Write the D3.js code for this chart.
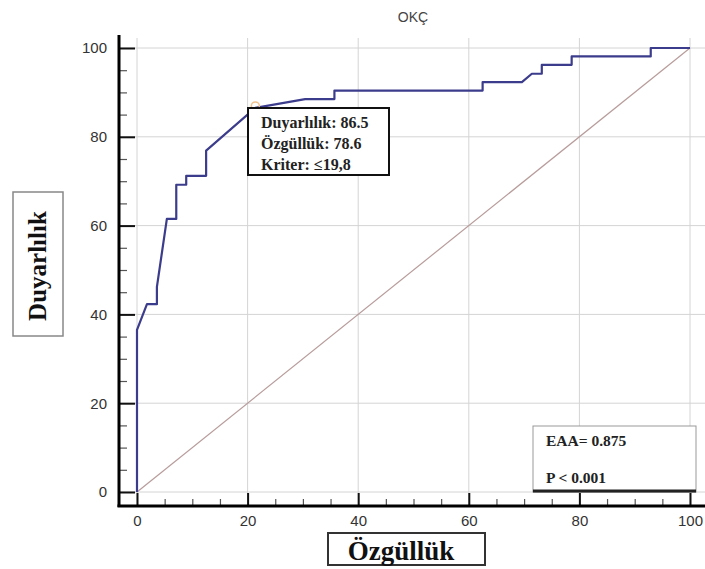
<!DOCTYPE html>
<html>
<head>
<meta charset="utf-8">
<script src="https://cdn.jsdelivr.net/npm/d3@7"></script>
<style>
  body { margin: 0; background: #fff; }
  .tick text { font-family: Arial, "Liberation Sans", sans-serif; fill: #333; }
  .serif { font-family: "Liberation Serif", "Times New Roman", serif; font-weight: bold; }
</style>
</head>
<body>
<div id="container"></div>
<script>
const width = 705, height = 569;

// ROC curve: 100 - specificity (x), sensitivity (y)
const fpr  = [0, 0, 1.8, 3.6, 3.6, 5.4, 7.1, 7.1, 8.9, 8.9, 12.5, 12.5, 21.4, 30.4, 35.7, 35.7, 62.5, 62.5, 69.6, 71.4, 73.2, 73.2, 78.6, 78.6, 92.9, 92.9, 100];
const sens = [0, 36.5, 42.3, 42.3, 46.2, 61.5, 61.5, 69.2, 69.2, 71.2, 71.2, 76.9, 86.5, 88.5, 88.5, 90.4, 90.4, 92.3, 92.3, 94.2, 94.2, 96.2, 96.2, 98.1, 98.1, 100, 100];
const majorTicks = [0, 20, 40, 60, 80, 100];
const minorTicks = [5, 10, 15, 25, 30, 35, 45, 50, 55, 65, 70, 75, 85, 90, 95];
const criterion = {x: 21.4, y: 86.5};
const infoLines = ['Duyarlılık: 86.5', 'Özgüllük: 78.6', 'Kriter: ≤19,8'];
const statLines = ['EAA= 0.875', 'P < 0.001'];

const svg = d3.select('#container').append('svg')
    .attr('width', width).attr('height', height);

const x = d3.scaleLinear([0, 100], [137, 690]);
const y = d3.scaleLinear([0, 100], [492, 48]);

const axisX = 119, axisY = 506;

// grid
svg.append('g').selectAll('line.v')
    .data(majorTicks).join('line')
    .attr('x1', d => x(d)).attr('x2', d => x(d))
    .attr('y1', 38).attr('y2', axisY)
    .attr('stroke', '#d4d4d4').attr('stroke-width', 1);
svg.append('g').selectAll('line.h')
    .data(majorTicks).join('line')
    .attr('x1', axisX).attr('x2', 705)
    .attr('y1', d => y(d)).attr('y2', d => y(d))
    .attr('stroke', '#d4d4d4').attr('stroke-width', 1);

// axes
const yAxis = svg.append('g')
    .attr('transform', `translate(${axisX},0)`)
    .call(d3.axisLeft(y).tickValues(majorTicks).tickSize(-16).tickPadding(12));
yAxis.select('.domain').remove();
yAxis.selectAll('.tick line').attr('stroke', '#111').attr('stroke-width', 2);
yAxis.selectAll('.tick text').style('font-size', '15px');

const yMinor = svg.append('g')
    .attr('transform', `translate(${axisX},0)`)
    .call(d3.axisLeft(y).tickValues(minorTicks).tickSize(-8).tickFormat(''));
yMinor.select('.domain').remove();
yMinor.selectAll('.tick line').attr('stroke', '#555').attr('stroke-width', 1.2);

const xAxis = svg.append('g')
    .attr('transform', `translate(0,${axisY})`)
    .call(d3.axisBottom(x).tickValues(majorTicks).tickSize(-13).tickPadding(9));
xAxis.select('.domain').remove();
xAxis.selectAll('.tick line').attr('stroke', '#111').attr('stroke-width', 2);
xAxis.selectAll('.tick text').style('font-size', '15px');

const xMinor = svg.append('g')
    .attr('transform', `translate(0,${axisY})`)
    .call(d3.axisBottom(x).tickValues(minorTicks).tickSize(-7).tickFormat(''));
xMinor.select('.domain').remove();
xMinor.selectAll('.tick line').attr('stroke', '#555').attr('stroke-width', 1.2);

svg.append('line')
    .attr('x1', axisX).attr('x2', axisX).attr('y1', 35).attr('y2', axisY + 1)
    .attr('stroke', '#000').attr('stroke-width', 3);
svg.append('line')
    .attr('x1', axisX - 1.5).attr('x2', 705).attr('y1', axisY).attr('y2', axisY)
    .attr('stroke', '#000').attr('stroke-width', 3);

// reference diagonal
svg.append('line')
    .attr('x1', x(0)).attr('y1', y(0)).attr('x2', x(100)).attr('y2', y(100))
    .attr('stroke', '#b89c9c').attr('stroke-width', 1.2);

// ROC curve
const rocLine = d3.line().x(d => x(d[0])).y(d => y(d[1]));
svg.append('path')
    .datum(d3.zip(fpr, sens))
    .attr('d', rocLine)
    .attr('fill', 'none')
    .attr('stroke', '#3c3c8c')
    .attr('stroke-width', 2.2)
    .attr('stroke-linejoin', 'round');

svg.append('circle')
    .attr('cx', x(criterion.x)).attr('cy', y(criterion.y) - 2).attr('r', 4)
    .attr('fill', 'none').attr('stroke', '#f2c38c').attr('stroke-width', 1.5);

// criterion box
svg.append('rect')
    .attr('x', 248).attr('y', 108).attr('width', 141).attr('height', 67)
    .attr('fill', '#fff').attr('stroke', '#111').attr('stroke-width', 2);
svg.append('g').selectAll('text')
    .data(infoLines).join('text')
    .attr('class', 'serif')
    .attr('x', 261).attr('y', (d, i) => 128 + i * 21)
    .style('font-size', '16px').attr('fill', '#222')
    .text(d => d);

// stats box
svg.append('rect')
    .attr('x', 533).attr('y', 426).attr('width', 163).attr('height', 66)
    .attr('fill', '#fff').attr('stroke', '#999').attr('stroke-width', 1);
svg.append('line')
    .attr('x1', 533).attr('x2', 696).attr('y1', 491).attr('y2', 491)
    .attr('stroke', '#222').attr('stroke-width', 3);
svg.append('g').selectAll('text')
    .data(statLines).join('text')
    .attr('class', 'serif')
    .attr('x', 546).attr('y', (d, i) => 446 + i * 37)
    .style('font-size', '15.5px').attr('fill', '#222')
    .text(d => d);

// title
svg.append('text')
    .attr('x', 413).attr('y', 22)
    .attr('text-anchor', 'middle')
    .style('font-family', 'Arial, "Liberation Sans", sans-serif')
    .style('font-size', '14px').attr('fill', '#444')
    .text('OKÇ');

// axis titles
svg.append('rect')
    .attr('x', 13).attr('y', 192).attr('width', 50).attr('height', 144)
    .attr('fill', '#fff').attr('stroke', '#888').attr('stroke-width', 1.5);
svg.append('text')
    .attr('class', 'serif')
    .attr('transform', 'translate(46,266) rotate(-90)')
    .attr('text-anchor', 'middle')
    .style('font-size', '25px').attr('fill', '#111')
    .text('Duyarlılık');

svg.append('rect')
    .attr('x', 328).attr('y', 533).attr('width', 157).attr('height', 32)
    .attr('fill', '#fff').attr('stroke', '#333').attr('stroke-width', 2);
svg.append('text')
    .attr('class', 'serif')
    .attr('x', 401).attr('y', 560)
    .attr('text-anchor', 'middle')
    .style('font-size', '27px').attr('fill', '#111')
    .text('Özgüllük');
</script>
</body>
</html>
